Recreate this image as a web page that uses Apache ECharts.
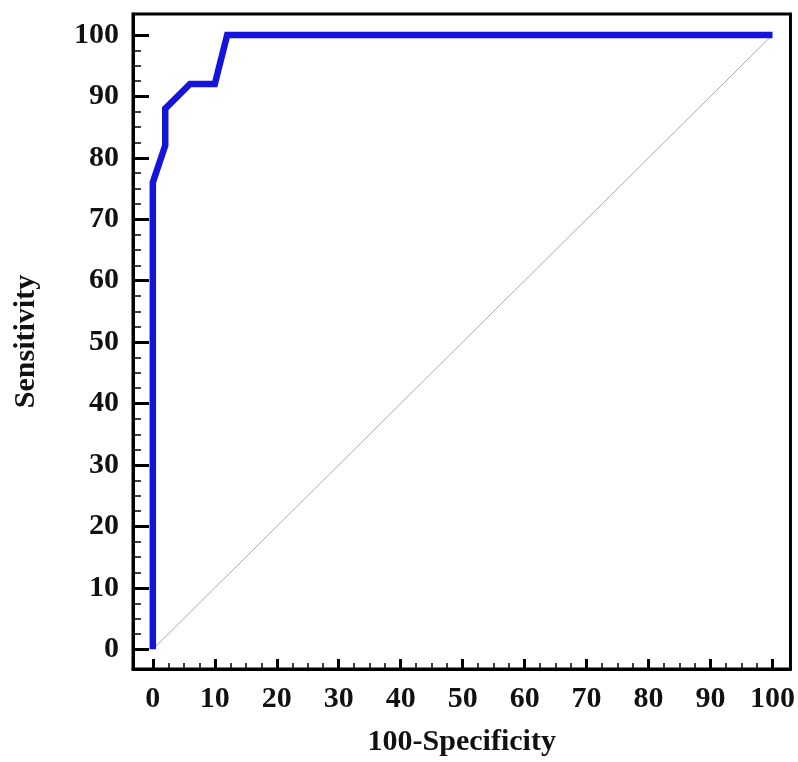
<!DOCTYPE html>
<html>
<head>
<meta charset="utf-8">
<script src="https://cdn.jsdelivr.net/npm/echarts@6/dist/echarts.min.js"></script>
<style>
  html, body { margin: 0; padding: 0; background: #fff; }
  #chart { width: 798px; height: 762px; }
</style>
</head>
<body>
<div id="chart"></div>
<script>
// ROC curve points (100-Specificity, Sensitivity)
const fpr = [0, 0, 2, 2, 6, 10, 12, 100]
const tpr = [0, 76, 82, 88, 92, 92, 100, 100]
// reference diagonal
const diagX = [0, 100]
const diagY = [0, 100]
// tick values
const majorTicks = [0, 10, 20, 30, 40, 50, 60, 70, 80, 90, 100]
const minorTicks = [0, 2.5, 5, 7.5, 10, 12.5, 15, 17.5, 20, 22.5, 25, 27.5, 30, 32.5, 35, 37.5,
  40, 42.5, 45, 47.5, 50, 52.5, 55, 57.5, 60, 62.5, 65, 67.5, 70, 72.5, 75, 77.5,
  80, 82.5, 85, 87.5, 90, 92.5, 95, 97.5, 100]

const font = 'Liberation Serif, Times New Roman, serif'
const axMin = -3.2

function mkAxis(name, pos) {
  const isX = pos === 'bottom'
  const max = isX ? 102.9 : 103.4
  return [
    {
      type: 'value', position: pos, min: axMin, max: max,
      name: name, nameLocation: 'middle',
      nameGap: isX ? 58 : 92,
      nameTextStyle: { fontFamily: font, fontWeight: 'bold', fontSize: 30, color: '#111' },
      axisLine: { show: true, onZero: false, lineStyle: { color: '#000', width: 3 } },
      axisTick: { show: true, inside: true, length: isX ? 10 : 16, customValues: majorTicks,
        lineStyle: { color: '#000', width: 3 } },
      axisLabel: { show: true, customValues: majorTicks, margin: isX ? 15 : 14,
        fontFamily: font, fontWeight: 'bold', fontSize: 30, color: '#111' },
      splitLine: { show: false }
    },
    {
      // minor ticks
      type: 'value', position: pos, min: axMin, max: max,
      axisLine: { show: false, onZero: false },
      axisTick: { show: true, inside: true, length: isX ? 6 : 8, customValues: minorTicks,
        lineStyle: { color: '#000', width: 1.5 } },
      axisLabel: { show: false },
      splitLine: { show: false }
    }
  ]
}

const chart = echarts.init(document.getElementById('chart'))
chart.setOption({
  animation: false,
  grid: { left: 133, right: 5, top: 14, bottom: 87, show: true, borderColor: '#000', borderWidth: 3 },
  xAxis: mkAxis('100-Specificity', 'bottom'),
  yAxis: mkAxis('Sensitivity', 'left'),
  series: [
    {
      type: 'line', xAxisIndex: 0, yAxisIndex: 0,
      data: diagX.map((x, i) => [x, diagY[i]]),
      symbol: 'none', silent: true,
      lineStyle: { color: '#aaa', width: 1 }
    },
    {
      type: 'line', xAxisIndex: 0, yAxisIndex: 0,
      data: fpr.map((x, i) => [x, tpr[i]]),
      symbol: 'none',
      lineStyle: { color: '#1414dc', width: 6.5, join: 'miter' }
    }
  ]
})
</script>
</body>
</html>
